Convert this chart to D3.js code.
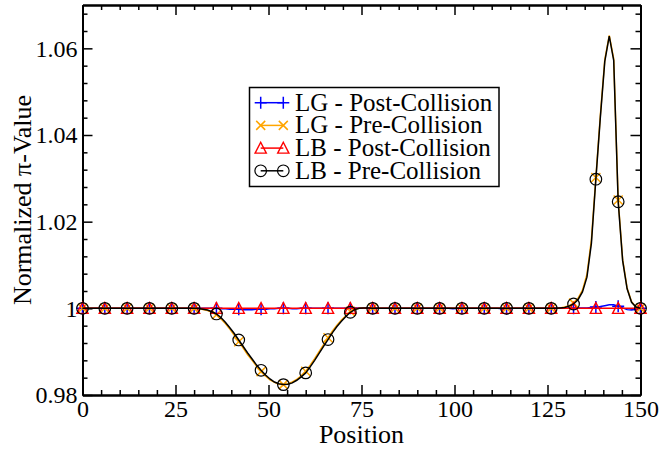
<!DOCTYPE html>
<html>
<head>
<meta charset="utf-8">
<script src="https://cdn.jsdelivr.net/npm/d3@7"></script>
<style>
  body { margin: 0; background: #fff; }
  text { font-family: "Liberation Serif", "Times New Roman", serif; fill: #000; }
</style>
</head>
<body>
<svg id="chart" width="660" height="456"></svg>
<script>
// Sample grid: 126 nodes spaced 1.2 apart over the 150-unit domain
const gridSpacing = 1.2;
const positions = d3.range(126).map(i => +(i * gridSpacing).toFixed(1));

// Normalized pi-value per grid node, one array per run
const lgPost = [
  1,1,1,1,1,1,1,1,1,1,
  1,1,1,1,1,1,1,1,1,1,
  1,1,1,1,1,1,1,1,1,1,
  1,0.9999,0.9999,0.9998,0.9998,0.9998,0.9997,0.9997,0.9997,0.9998,
  0.9998,0.9998,0.9999,0.9999,1,1,1,0.9999,0.9999,1,
  1,1,1,1,1,1,1,1,1,1,
  1,1.0001,1.0001,1,1,1,1,1,1,1,
  1,1,1,1,1,1,1,1,1,1,
  1,1,1,0.9999,1,1,1,1,1,1,
  1,1,1,1,0.9999,0.9999,1,1,1,1,
  1,1,1,1,1,1,1,1,1,1,
  1,1.0001,1.0001,1.0001,1.0002,1.0003,1.0004,1.0006,1.0008,1.0008,
  1.0005,1.0001,0.9997,0.9996,0.9998,1
];

const lgPre = [
  1,1,1,1,1,1,1,1,1,1,
  1,1,1,1,1,1,1,1,1,1,
  1,1,1,1,1,0.99999,0.9999,0.9997,0.9995,0.9991,
  0.9985,0.9976,0.9965,0.9952,0.9938,0.9923,0.9908,0.9893,0.9880,0.9866,
  0.9854,0.9844,0.9835,0.9829,0.9825,0.9824,0.9826,0.9830,0.9836,0.9844,
  0.9855,0.9869,0.9884,0.9900,0.9916,0.9932,0.9948,0.9961,0.9973,0.9983,
  0.9993,0.9998,1,1.0001,1,1,1,1,1,1,
  1,1,1,1,1,1,1,1,1,1,
  1,1,1,1,1,1,1,1,1,1,
  1,1,1,1,1,1,1,1,1,1,
  1,1,1,1,1,1,1,1.0001,1.0003,1.0006,
  1.0012,1.0023,1.0042,1.0078,1.0158,1.0302,1.0445,1.0574,1.0630,1.0576,
  1.0250,1.0113,1.0047,1.0015,1.0003,1
];

const lbPost = [
  1,1,1,1,1,1,1,1,1,1,
  1,1,1,1,1,1,1,1,1,1,
  1,1,1,1,1,1,1,1,1,1,
  1,1,1,1,1,1,1,1,1,1,
  1,1,1,1,1,1,1,1,1,1,
  1,1,1,1,1,1,1,1,1,1,
  1,1,1,1,1,1,1,1,1,1,
  1,1,1,1,1,1,1,1,1,1,
  1,1,1,1,1,1,1,1,1,1,
  1,1,1,1,1,1,1,1,1,1,
  1,1,1,1,1,1,1,1,1,1,
  1,1,1,1,1,1,1,1,1,1,
  1,1,1,1,1,1
];

const lbPre = [
  1,1,1,1,1,1,1,1,1,1,
  1,1,1,1,1,1,1,1,1,1,
  1,1,1,1,1,1,0.99995,0.9998,0.9996,0.9992,
  0.9987,0.9979,0.9968,0.9955,0.9942,0.9927,0.9912,0.9897,0.9883,0.9869,
  0.9857,0.9846,0.9837,0.9830,0.9826,0.9824,0.9825,0.9828,0.9834,0.9842,
  0.9851,0.9865,0.9880,0.9896,0.9912,0.9928,0.9944,0.9958,0.9970,0.9981,
  0.9991,0.9997,1,1.0001,1.0001,1,1,1,1,1,
  1,1,1,1,1,1,1,1,1,1,
  1,1,1,1,1,1,1,1,1,1,
  1,1,1,1,1,1,1,1,1,1,
  1,1,1,1,1,1,1,1.0001,1.0002,1.0005,
  1.0010,1.0020,1.0038,1.0072,1.0150,1.0298,1.0440,1.0570,1.0628,1.0572,
  1.0246,1.0110,1.0045,1.0014,1.0003,1
];

const seriesNames = ["LG - Post-Collision", "LG - Pre-Collision", "LB - Post-Collision", "LB - Pre-Collision"];
const seriesColors = ["#0000ff", "#ffa500", "#ff0000", "#000000"];
const seriesSymbols = ["plus", "cross", "triangle", "circle"];
const seriesValues = [lgPost, lgPre, lbPost, lbPre];
const symbolEvery = 5;

const xMajorTicks = [0, 25, 50, 75, 100, 125, 150];
const xMinorStep = 5;
const yMajorTicks = [0.98, 1, 1.02, 1.04, 1.06];
const yTickLabels = ["0.98", "1", "1.02", "1.04", "1.06"];
const yMinorStep = 0.004;

const svg = d3.select("#chart");
const plot = { left: 82.5, right: 640.5, top: 5, bottom: 395 };

const x = d3.scaleLinear().domain([0, 150]).range([plot.left, plot.right]);
const y = d3.scaleLinear().domain([0.98, 1.07]).range([plot.bottom, plot.top]);

const xMinor = d3.range(0, 151, xMinorStep).filter(v => v % 25 !== 0);
const yMinor = d3.range(0, 23).map(i => +(0.98 + i * yMinorStep).toFixed(3))
  .filter(v => !yMajorTicks.some(m => Math.abs(m - v) < 1e-9));

function styleAxis(g) {
  g.select(".domain").attr("stroke", "#000").attr("stroke-width", 2);
  g.selectAll(".tick line").attr("stroke", "#000").attr("stroke-width", 1.5);
  g.selectAll("text").attr("font-family", "Liberation Serif, serif").attr("font-size", 24).attr("fill", "#000");
  g.attr("font-family", null);
}

// bottom axis with labels
svg.append("g").attr("transform", `translate(0,${plot.bottom})`)
  .call(d3.axisBottom(x).tickValues(xMajorTicks).tickFormat(d3.format("d")).tickSizeInner(-10).tickSizeOuter(0).tickPadding(5))
  .call(styleAxis);
svg.append("g").attr("transform", `translate(0,${plot.bottom})`)
  .call(d3.axisBottom(x).tickValues(xMinor).tickFormat("").tickSizeInner(-5).tickSizeOuter(0))
  .call(styleAxis);
// top mirror
svg.append("g").attr("transform", `translate(0,${plot.top})`)
  .call(d3.axisTop(x).tickValues(xMajorTicks).tickFormat("").tickSizeInner(-10).tickSizeOuter(0))
  .call(styleAxis);
svg.append("g").attr("transform", `translate(0,${plot.top})`)
  .call(d3.axisTop(x).tickValues(xMinor).tickFormat("").tickSizeInner(-5).tickSizeOuter(0))
  .call(styleAxis);
// left axis with labels
svg.append("g").attr("transform", `translate(${plot.left},0)`)
  .call(d3.axisLeft(y).tickValues(yMajorTicks).tickFormat((d, i) => yTickLabels[i]).tickSizeInner(-10).tickSizeOuter(0).tickPadding(5))
  .call(styleAxis);
svg.append("g").attr("transform", `translate(${plot.left},0)`)
  .call(d3.axisLeft(y).tickValues(yMinor).tickFormat("").tickSizeInner(-5).tickSizeOuter(0))
  .call(styleAxis);
// right mirror
svg.append("g").attr("transform", `translate(${plot.right},0)`)
  .call(d3.axisRight(y).tickValues(yMajorTicks).tickFormat("").tickSizeInner(-10).tickSizeOuter(0))
  .call(styleAxis);
svg.append("g").attr("transform", `translate(${plot.right},0)`)
  .call(d3.axisRight(y).tickValues(yMinor).tickFormat("").tickSizeInner(-5).tickSizeOuter(0))
  .call(styleAxis);

// axis titles
svg.append("text")
  .attr("x", (plot.left + plot.right) / 2).attr("y", 443)
  .attr("text-anchor", "middle").attr("font-size", 26)
  .text("Position");
svg.append("text")
  .attr("transform", `translate(31,${(plot.top + plot.bottom) / 2}) rotate(-90)`)
  .attr("text-anchor", "middle").attr("font-size", 26)
  .text("Normalized π-Value");

// symbol drawing
function drawSymbol(g, kind, color) {
  if (kind === "plus") {
    g.append("path").attr("d", "M-6,0H6M0,-6V6").attr("stroke", color).attr("stroke-width", 1.5).attr("fill", "none");
  } else if (kind === "cross") {
    g.append("path").attr("d", "M-4.5,-4.5L4.5,4.5M-4.5,4.5L4.5,-4.5").attr("stroke", color).attr("stroke-width", 1.5).attr("fill", "none");
  } else if (kind === "triangle") {
    g.append("path").attr("d", "M0,-5.8L5.6,5L-5.6,5Z").attr("stroke", color).attr("stroke-width", 1.4).attr("fill", "none");
  } else {
    g.append("circle").attr("r", 5.8).attr("stroke", color).attr("stroke-width", 1.2).attr("fill", "none");
  }
}

const line = d3.line().x(d => x(d[0])).y(d => y(d[1]));

seriesValues.forEach((vals, s) => {
  const pts = positions.map((p, i) => [p, vals[i]]);
  const g = svg.append("g");
  g.append("path").datum(pts).attr("d", line)
    .attr("fill", "none").attr("stroke", seriesColors[s]).attr("stroke-width", 1.5);
  pts.filter((d, i) => i % symbolEvery === 0).forEach(d => {
    const m = g.append("g").attr("transform", `translate(${x(d[0])},${y(d[1])})`);
    drawSymbol(m, seriesSymbols[s], seriesColors[s]);
  });
});

// legend
const legend = svg.append("g");
legend.append("rect").attr("x", 249.5).attr("y", 87.5).attr("width", 249.5).attr("height", 99)
  .attr("fill", "#fff").attr("stroke", "#000").attr("stroke-width", 1.5);
seriesNames.forEach((name, s) => {
  const cy = 102.7 + s * 22.7;
  const row = legend.append("g");
  row.append("line").attr("x1", 260.7).attr("x2", 283.3).attr("y1", cy).attr("y2", cy)
    .attr("stroke", seriesColors[s]).attr("stroke-width", 1.5);
  [260.7, 283.3].forEach(cx => {
    const m = row.append("g").attr("transform", `translate(${cx},${cy})`);
    drawSymbol(m, seriesSymbols[s], seriesColors[s]);
  });
  row.append("text").attr("x", 295).attr("y", cy + 8).attr("font-size", 25).text(name);
});
</script>
</body>
</html>
